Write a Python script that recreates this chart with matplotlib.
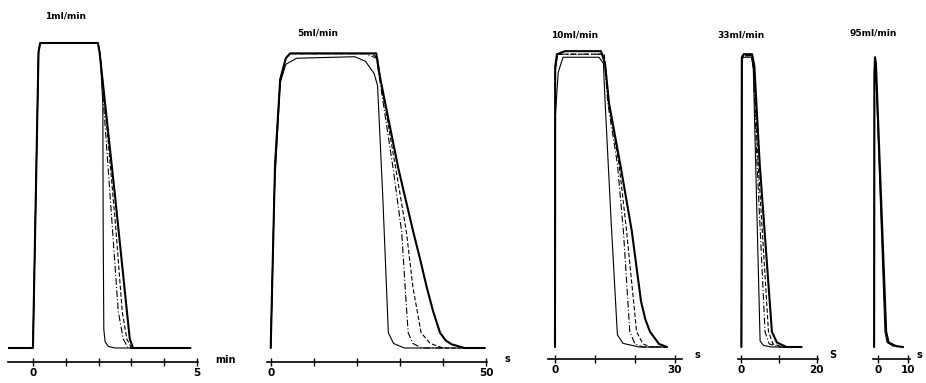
import numpy as np
import matplotlib.pyplot as plt

# flow rates / panel titles
titles = ["1ml/min", "5ml/min", "10ml/min", "33ml/min", "95ml/min"]
units = ["min", "s", "s", "S", "s"]

# panel 1 (time in min, normalised signal)
p1_steep = [(-0.75, 0), (0, 0), (0.17, 0.97), (0.22, 1.0), (1.98, 1.0), (2.05, 0.96), (2.13, 0.8),
            (2.14, 0.4), (2.16, 0.06), (2.2, 0.02), (2.3, 0.005), (2.5, 0), (4.8, 0)]
p1_dashdot = [(0, 0), (0.17, 0.97), (0.22, 1.0), (1.98, 1.0), (2.05, 0.96), (2.12, 0.85), (2.43, 0.38),
              (2.6, 0.12), (2.75, 0.03), (2.9, 0), (3.2, 0)]
p1_dashed = [(0, 0), (0.17, 0.97), (0.22, 1.0), (1.98, 1.0), (2.05, 0.96), (2.15, 0.85), (2.52, 0.4),
             (2.72, 0.12), (2.86, 0.03), (3.0, 0), (3.3, 0)]
p1_thick = [(-0.75, 0), (0, 0), (0.17, 0.97), (0.22, 1.0), (1.98, 1.0), (2.03, 0.97), (2.5, 0.5),
            (2.95, 0.03), (3.05, 0), (4.8, 0)]

# panel 2 (s)
p2_steep = [(0, 0), (0.8, 0.5), (2.2, 0.87), (3.5, 0.93), (6, 0.95), (19.5, 0.955), (22, 0.94),
            (24, 0.9), (24.8, 0.86), (26, 0.5), (27.3, 0.05), (28.5, 0.015), (31, 0), (49.7, 0)]
p2_dashdot = [(0, 0), (1, 0.6), (2.2, 0.88), (3.5, 0.95), (4.5, 0.965), (22, 0.965), (24.6, 0.95),
              (25.4, 0.87), (28.4, 0.59), (30.4, 0.38), (31.2, 0.2), (31.9, 0.05), (33, 0.015),
              (35, 0), (40, 0)]
p2_dashed = [(0, 0), (1, 0.6), (2.2, 0.88), (3.5, 0.95), (4.5, 0.965), (23.5, 0.965), (24.8, 0.95),
             (25.6, 0.87), (29, 0.59), (31.5, 0.38), (33, 0.2), (34.9, 0.05), (37, 0.015),
             (40, 0), (44, 0)]
p2_thick = [(0, 0), (1, 0.6), (2.2, 0.88), (3.5, 0.95), (4.5, 0.966), (24.5, 0.966), (25.2, 0.9),
            (29.6, 0.59), (33.1, 0.38), (34.7, 0.29), (36.2, 0.2), (37.7, 0.12), (39.3, 0.05),
            (40.6, 0.025), (42, 0.012), (45, 0), (49.7, 0)]

# panel 3 (s)
p3_steep = [(0, 0), (0.05, 0.75), (0.8, 0.9), (2, 0.95), (11, 0.95), (12.1, 0.93), (12.5, 0.81),
            (14, 0.42), (15.6, 0.04), (17, 0.012), (21, 0), (28, 0)]
p3_dashdot = [(0, 0), (0.05, 0.9), (0.6, 0.96), (12, 0.96), (12.6, 0.9), (13.2, 0.8), (15.6, 0.6),
              (17.1, 0.38), (18.7, 0.05), (20, 0.01), (22, 0), (28, 0)]
p3_dashed = [(0, 0), (0.05, 0.9), (0.6, 0.96), (12.3, 0.96), (12.8, 0.9), (13.4, 0.8), (16, 0.6),
             (17.9, 0.38), (20.4, 0.05), (22, 0.01), (24, 0), (28, 0)]
p3_thick = [(0, 0), (0.05, 0.92), (0.5, 0.96), (2.5, 0.97), (11.5, 0.97), (12.5, 0.93), (13.5, 0.8),
            (16.3, 0.6), (19.2, 0.38), (21.5, 0.15), (22.6, 0.09), (23.75, 0.05), (26, 0.01), (28, 0)]

# panel 4 (s)
p4_steep = [(0.2, 0), (0.3, 0.93), (0.6, 0.95), (2.8, 0.95), (3.3, 0.92), (5.1, 0.02), (6, 0.005),
            (8, 0), (16, 0)]
p4_dashdot = [(0.2, 0), (0.3, 0.94), (0.7, 0.955), (2.9, 0.955), (3.4, 0.9), (4.3, 0.6), (6.4, 0.05),
              (7.5, 0.01), (10, 0), (16, 0)]
p4_dashed = [(0.2, 0), (0.3, 0.94), (0.7, 0.955), (3.0, 0.955), (3.5, 0.9), (4.6, 0.6), (7.3, 0.05),
             (8.5, 0.01), (11, 0), (16, 0)]
p4_thick = [(0.2, 0), (0.3, 0.95), (0.8, 0.96), (3.0, 0.96), (3.6, 0.92), (5, 0.6), (8.2, 0.05),
            (9.5, 0.015), (12, 0), (16, 0)]

# panel 5 (s)
p5_a = [(-1.3, 0), (-1.2, 0.9), (-1.0, 0.95), (-0.8, 0.92), (2.3, 0.05), (3, 0.015), (5, 0.003), (8.3, 0)]
p5_b = [(-1.3, 0), (-1.2, 0.9), (-1.0, 0.95), (-0.7, 0.93), (2.7, 0.05), (3.5, 0.015), (6, 0.003), (8.3, 0)]

curves = [
    [p1_steep, p1_dashdot, p1_dashed, p1_thick],
    [p2_steep, p2_dashdot, p2_dashed, p2_thick],
    [p3_steep, p3_dashdot, p3_dashed, p3_thick],
    [p4_steep, p4_dashdot, p4_dashed, p4_thick],
    [p5_a, p5_b],
]
styles = [dict(lw=0.8, ls="-"), dict(lw=0.8, ls=(0, (6, 2, 1, 2))),
          dict(lw=0.8, ls=(0, (4, 2))), dict(lw=1.5, ls="-")]

xlims = [(-0.76, 5.03), (-0.86, 50.2), (-1.75, 31.75), (-0.7, 20.3), (-1.67, 10.6)]
xticks = [np.arange(0, 6, 1), np.arange(0, 60, 10), np.arange(0, 40, 10), np.arange(0, 30, 10), [0, 10]]
ticklabels = [("0", "5"), ("0", "50"), ("0", "30"), ("0", "20"), ("0", "10")]

# layout in pixels: left, right, axis line y, baseline y
W, H = 926, 383
boxes = [(8, 198, 362, 348), (267, 487, 362, 348), (548, 682, 359, 347),
         (738, 818, 359, 347), (873, 910, 359, 347)]
title_pos = [(66, 16), (318, 33), (575, 35), (741, 35), (873, 33)]
unit_pos = [(226, 360), (507, 359), (697, 355), (833, 355), (919, 355)]
scale = 305.0
top = 10

fig = plt.figure(figsize=(W / 100, H / 100), dpi=100)

for i in range(5):
    l, r, ax_y, base_y = boxes[i]
    ax = fig.add_axes([l / W, 1 - ax_y / H, (r - l) / W, (ax_y - top) / H])
    for k, pts in enumerate(curves[i]):
        st = styles[k] if len(curves[i]) == 4 else styles[[0, 3][k]]
        t = [p[0] for p in pts]
        c = [p[1] for p in pts]
        ax.plot(t, c, color="black", solid_capstyle="round", **st)
    ax.set_xlim(*xlims[i])
    ax.set_ylim(-(ax_y - base_y) / scale, (base_y - top) / scale)
    for s in ["top", "right", "left"]:
        ax.spines[s].set_visible(False)
    ax.spines["bottom"].set_linewidth(1.2)
    ax.set_yticks([])
    ax.set_xticks(xticks[i])
    labs = [""] * len(xticks[i])
    labs[0] = ticklabels[i][0]
    labs[-1] = ticklabels[i][1]
    ax.set_xticklabels(labs, fontsize=7.5, fontweight="bold")
    ax.tick_params(axis="x", direction="inout", length=6, width=1, pad=1)
    fig.text(title_pos[i][0] / W, 1 - title_pos[i][1] / H, titles[i], fontsize=6.5,
             fontweight="bold", ha="center", va="center")
    fig.text(unit_pos[i][0] / W, 1 - unit_pos[i][1] / H, units[i], fontsize=7,
             fontweight="bold", ha="center", va="center")

plt.savefig("out.png", dpi=100)
